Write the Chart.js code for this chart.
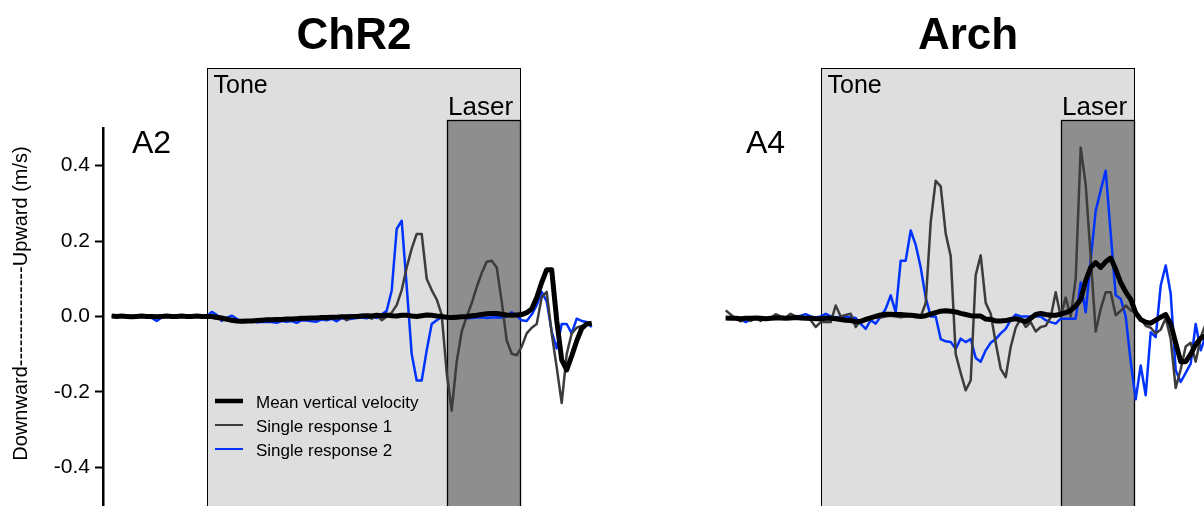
<!DOCTYPE html>
<html>
<head>
<meta charset="utf-8">
<script src="https://cdn.jsdelivr.net/npm/chart.js@4.4.1/dist/chart.umd.min.js"></script>
<style>
  html, body { margin: 0; padding: 0; background: #fff; overflow: hidden; }
  #wrap { position: relative; width: 1204px; height: 506px; overflow: hidden; background: #fff; }
  canvas { position: absolute; top: 0; }
  #chr2 { left: 0; }
  #arch { left: 602px; }
</style>
</head>
<body>
<div id="wrap">
  <canvas id="chr2" width="602" height="506"></canvas>
  <canvas id="arch" width="614" height="506"></canvas>
</div>
<script>
// ---- sampling grid: 20 Hz, time in seconds relative to tone onset ----
const sampleStep = 0.05;
const toneOnsetSample = 19;
const timeS = Array.from({ length: 97 }, (_, k) => +((k - toneOnsetSample) * sampleStep).toFixed(2));

// stimulus windows (s)
const toneWindow = [0, 3.13];
const laserWindow = [2.4, 3.13];

// y-axis tick labels (m/s)
const yTicks = [-0.4, -0.2, 0, 0.2, 0.4];

const seriesNames = ['Mean vertical velocity', 'Single response 1', 'Single response 2'];

// ---- ChR2 (A2) vertical velocity, m/s ----
const chr2Mean = [
  0.001, 0.0, 0.001, 0.0, -0.001, 0.0, 0.001, 0.0, 0.0, -0.001, 0.0, 0.001, 0.0, 0.0, 0.001, 0.0, 0.0, 0.001, 0.0,
  0.0, 0.0, -0.002, -0.004, -0.007, -0.010, -0.012, -0.013, -0.012, -0.012, -0.011, -0.010,
  -0.009, -0.009, -0.008, -0.008, -0.007, -0.007, -0.006, -0.005, -0.005, -0.004, -0.004, -0.003, -0.003, -0.002, -0.002, -0.001, -0.001, 0.0, 0.0,
  0.001, 0.002, 0.001, 0.003, 0.002, 0.004, 0.002, 0.001, 0.003, 0.003, 0.001, 0.0, 0.002, 0.004, 0.003, 0.001, 0.0,
  -0.002, -0.003, -0.002, -0.001, 0.0, 0.002, 0.003, 0.005, 0.007, 0.008, 0.008, 0.006, 0.004, 0.003, 0.004,
  0.005, 0.010, 0.020, 0.050, 0.090, 0.124, 0.124, -0.010, -0.115, -0.142, -0.105, -0.065, -0.032, -0.020, -0.018
];
const chr2Single1 = [
  0.002, 0.0, -0.001, 0.001, 0.0, -0.002, 0.001, 0.0, 0.001, -0.001, 0.0, 0.002, 0.0, -0.001, 0.001, 0.0, 0.0, 0.002, 0.001,
  0.0, -0.003, -0.006, -0.008, -0.010, -0.013, -0.014, -0.015, -0.014, -0.012, -0.013, -0.011,
  -0.010, -0.012, -0.009, -0.010, -0.008, -0.009, -0.006, -0.007, -0.005, -0.006, -0.003, -0.004, -0.008, 0.0, -0.003, 0.001, -0.010, 0.0, 0.002,
  0.004, 0.001, -0.006, 0.003, -0.010, 0.0,
  0.010, 0.030, 0.070, 0.130, 0.180, 0.219, 0.219, 0.100, 0.070, 0.045, 0.005,
  -0.150, -0.250, -0.120, -0.040, 0.0, 0.035, 0.078, 0.115, 0.145, 0.148, 0.130, 0.040, -0.064, -0.099, -0.103,
  -0.080, -0.045, -0.030, -0.020, 0.051, 0.065, -0.045, -0.135, -0.230, -0.100, -0.045, -0.030, -0.025, -0.021, -0.020
];
const chr2Single2 = [
  0.0, 0.001, -0.001, 0.0, 0.0, 0.001, 0.0, -0.002, -0.004, -0.012, -0.003, 0.0, 0.001, 0.0, -0.001, 0.0, 0.001, 0.0, 0.0,
  0.0, 0.012, 0.004, -0.012, -0.004, 0.002, -0.006, -0.014, -0.015, -0.010, -0.016, -0.014,
  -0.015, -0.015, -0.017, -0.012, -0.014, -0.012, -0.017, -0.010, -0.011, -0.013, -0.014, -0.008, -0.010, -0.006, -0.013, -0.004, -0.008, -0.006, -0.004,
  -0.003, -0.005, 0.0, -0.004, 0.005, 0.015,
  0.069, 0.232, 0.254, 0.080, -0.100, -0.170, -0.170, -0.090, -0.020, -0.010, -0.002,
  -0.004, -0.005, -0.004, -0.003, -0.005, -0.004, -0.003, -0.002, -0.004, -0.003, -0.002, -0.003, 0.0, 0.011, 0.002,
  -0.010, -0.012, 0.005, 0.030, 0.065, 0.040, -0.040, -0.085, -0.020, -0.020, -0.045, -0.006, -0.012, -0.015, -0.028
];

// ---- Arch (A4) vertical velocity, m/s ----
const archMean = [
  -0.004, -0.005, -0.005, -0.006, -0.005, -0.005, -0.004, -0.005, -0.006, -0.005, -0.004, -0.004, -0.005, -0.004, -0.003, -0.004, -0.005, -0.005, -0.006, -0.006,
  -0.005, -0.005, -0.006, -0.008, -0.010, -0.011, -0.014, -0.013, -0.008, -0.004, 0.0, 0.004, 0.006, 0.006, 0.005, 0.005, 0.004, 0.003, 0.002, 0.0,
  0.002, 0.006, 0.010, 0.014, 0.015, 0.014, 0.012, 0.008, 0.005, 0.002, 0.001, 0.001, -0.007, -0.008, -0.012, -0.012, -0.011, -0.008, -0.006, -0.010,
  -0.014, -0.005, 0.005, 0.008, 0.005, 0.003, 0.003, 0.006, 0.010, 0.016, 0.028, 0.045, 0.095, 0.130, 0.143, 0.130, 0.145, 0.155, 0.125, 0.090,
  0.065, 0.045, 0.010, -0.008, -0.015, -0.018, -0.010, -0.002, 0.005, -0.020, -0.070, -0.120, -0.120, -0.100, -0.075, -0.058, -0.050
];
const archSingle1 = [
  0.016, 0.005, -0.006, -0.013, -0.005, -0.012, -0.004, -0.012, -0.004, -0.004, 0.006, 0.0, -0.003, 0.007, 0.0, 0.0, -0.005, -0.010, -0.028, -0.015,
  -0.015, -0.015, 0.029, 0.0, 0.004, 0.007, -0.028, -0.010, -0.012, -0.005, -0.002, -0.003, 0.0, 0.002, 0.0, -0.002, 0.0, 0.001, -0.002, 0.0,
  0.035, 0.250, 0.360, 0.345, 0.220, 0.160, -0.100, -0.150, -0.196, -0.170, 0.110, 0.162, 0.036, 0.007, -0.070, -0.139, -0.161, -0.081, -0.030, -0.005,
  -0.028, -0.015, -0.040, -0.028, -0.025, -0.002, 0.064, 0.0, 0.050, 0.0, 0.100, 0.448, 0.350, 0.157, -0.040, 0.020, 0.064, 0.064, 0.003, 0.015,
  0.029, 0.016, 0.010, -0.005, -0.025, -0.030, -0.045, -0.035, -0.005, -0.060, -0.190, -0.140, -0.080, -0.070, -0.120, -0.055, -0.020
];
const archSingle2 = [
  -0.003, -0.002, -0.005, -0.008, -0.015, -0.008, -0.005, -0.004, -0.006, -0.002, 0.0, -0.002, -0.003, -0.002, 0.0, 0.002, 0.006, 0.0, -0.003, 0.0,
  0.007, 0.0, -0.002, -0.002, -0.002, -0.002, -0.004, -0.020, -0.033, -0.010, -0.019, 0.0, 0.020, 0.056, 0.011, 0.148, 0.148, 0.228, 0.190, 0.130,
  0.050, 0.0, 0.0, -0.060, -0.066, -0.068, -0.086, -0.059, -0.068, -0.060, -0.110, -0.120, -0.090, -0.070, -0.060, -0.045, -0.033, -0.009, 0.005, 0.0,
  0.0, 0.0, 0.0, 0.0, -0.010, -0.015, -0.019, -0.006, -0.006, -0.006, -0.006, 0.090, 0.011, 0.150, 0.280, 0.335, 0.387, 0.220, 0.056, 0.047,
  0.0, -0.120, -0.220, -0.130, -0.209, -0.042, -0.055, 0.082, 0.135, 0.060, -0.143, -0.174, -0.150, -0.125, -0.020, -0.090, -0.050
];

const FONT = '"Liberation Sans", Arial, Helvetica, sans-serif';
const seriesStyles = [
  { color: '#000000', width: 5 },
  { color: '#3c3c3c', width: 2.5 },
  { color: '#0033ff', width: 2.5 }
];

function toPoints(values) {
  return values.map((v, i) => ({ x: timeS[i], y: v }));
}

function buildDatasets(mean, s1, s2) {
  return [mean, s1, s2].map((vals, i) => ({
    label: seriesNames[i],
    data: toPoints(vals),
    borderColor: seriesStyles[i].color,
    borderWidth: seriesStyles[i].width,
    pointRadius: 0,
    tension: 0,
    fill: false,
    borderJoinStyle: 'round'
  }));
}

// Tone / Laser shading, titles, panel tags, inline legend, y title
const panelDecor = {
  id: 'panelDecor',
  beforeDatasetsDraw(chart, args, o) {
    const ctx = chart.ctx, xs = chart.scales.x, area = chart.chartArea;
    const tx0 = Math.round(xs.getPixelForValue(toneWindow[0])) + 0.5;
    const tx1 = Math.round(xs.getPixelForValue(toneWindow[1])) + 0.5;
    const lx0 = Math.round(xs.getPixelForValue(laserWindow[0])) + 0.5;
    const lx1 = Math.round(xs.getPixelForValue(laserWindow[1])) + 0.5;
    const bottom = area.bottom + 2;
    ctx.save();
    ctx.fillStyle = '#dedede';
    ctx.fillRect(tx0, o.toneTop, tx1 - tx0, bottom - o.toneTop);
    ctx.strokeStyle = '#000';
    ctx.lineWidth = 1;
    ctx.strokeRect(tx0, o.toneTop + 0.5, tx1 - tx0, bottom - o.toneTop);
    ctx.fillStyle = '#8e8e8e';
    ctx.fillRect(lx0, o.laserTop, lx1 - lx0, bottom - o.laserTop);
    ctx.lineWidth = 1.3;
    ctx.strokeRect(lx0, o.laserTop + 0.5, lx1 - lx0, bottom - o.laserTop);

    ctx.fillStyle = '#000';
    ctx.textBaseline = 'alphabetic';
    ctx.textAlign = 'left';
    ctx.font = '25px ' + FONT;
    ctx.fillText('Tone', tx0 + 6, 93);
    ctx.font = '26px ' + FONT;
    ctx.fillText('Laser', lx0 + 0.5, 115);
    ctx.restore();
  },
  afterDatasetsDraw(chart, args, o) {
    const ctx = chart.ctx, area = chart.chartArea;
    ctx.save();
    ctx.fillStyle = '#000';
    ctx.textBaseline = 'alphabetic';

    // panel title
    ctx.textAlign = 'center';
    ctx.font = 'bold 44px ' + FONT;
    ctx.fillText(o.title, area.left + 251, 49);

    // panel tag
    ctx.textAlign = 'left';
    ctx.font = '32px ' + FONT;
    ctx.fillText(o.tag, area.left + 29, 153);

    if (o.legend) {
      const rows = [{ line: 401, text: 407.5 }, { line: 425, text: 432 }, { line: 449, text: 455.5 }];
      chart.data.datasets.forEach((ds, i) => {
        ctx.strokeStyle = ds.borderColor;
        ctx.lineWidth = i === 0 ? 4.5 : 2;
        ctx.beginPath();
        ctx.moveTo(area.left + 112, rows[i].line);
        ctx.lineTo(area.left + 140, rows[i].line);
        ctx.stroke();
        ctx.fillStyle = '#000';
        ctx.font = '17px ' + FONT;
        ctx.fillText(ds.label, area.left + 153, rows[i].text);
      });
    }

    if (o.yTitle) {
      ctx.translate(21, 303.5);
      ctx.rotate(-Math.PI / 2);
      ctx.textAlign = 'center';
      ctx.textBaseline = 'middle';
      ctx.font = '20px ' + FONT;
      ctx.fillText(o.yTitle, 0, 0);
    }
    ctx.restore();
  }
};

Chart.defaults.font.family = FONT;

function makePanel(canvasId, datasets, opts) {
  return new Chart(document.getElementById(canvasId), {
    type: 'line',
    data: { datasets },
    plugins: [panelDecor],
    options: {
      responsive: false,
      animation: false,
      devicePixelRatio: 1,
      events: [],
      layout: { padding: { top: 128, left: opts.padLeft, right: 2, bottom: 0 } },
      scales: {
        x: { type: 'linear', min: -1.037, max: 3.933, display: false },
        y: {
          min: -0.503,
          max: 0.5,
          display: opts.showAxis,
          afterFit(scale) {
            scale.width = opts.showAxis ? 103 : 0;
            scale.paddingTop = 0;
            scale.paddingBottom = 0;
          },
          afterBuildTicks(scale) { scale.ticks = yTicks.map(v => ({ value: v })); },
          grid: { drawOnChartArea: false, drawTicks: true, tickLength: 8, tickWidth: 2, tickColor: '#000' },
          border: { display: true, color: '#000', width: 2.5 },
          ticks: {
            color: '#000',
            padding: 5,
            font: { family: FONT, size: 21 },
            callback: v => Number(v).toFixed(1)
          }
        }
      },
      plugins: {
        legend: { display: false },
        tooltip: { enabled: false },
        panelDecor: {
          toneTop: 68,
          laserTop: 120,
          title: opts.title,
          tag: opts.tag,
          legend: opts.legend,
          yTitle: opts.yTitle
        }
      }
    }
  });
}

makePanel('chr2', buildDatasets(chr2Mean, chr2Single1, chr2Single2), {
  padLeft: 0, showAxis: true, title: 'ChR2', tag: 'A2', legend: true,
  yTitle: 'Downward---------------Upward (m/s)'
});
makePanel('arch', buildDatasets(archMean, archSingle1, archSingle2), {
  padLeft: 115, showAxis: false, title: 'Arch', tag: 'A4', legend: false, yTitle: ''
});
</script>
</body>
</html>
